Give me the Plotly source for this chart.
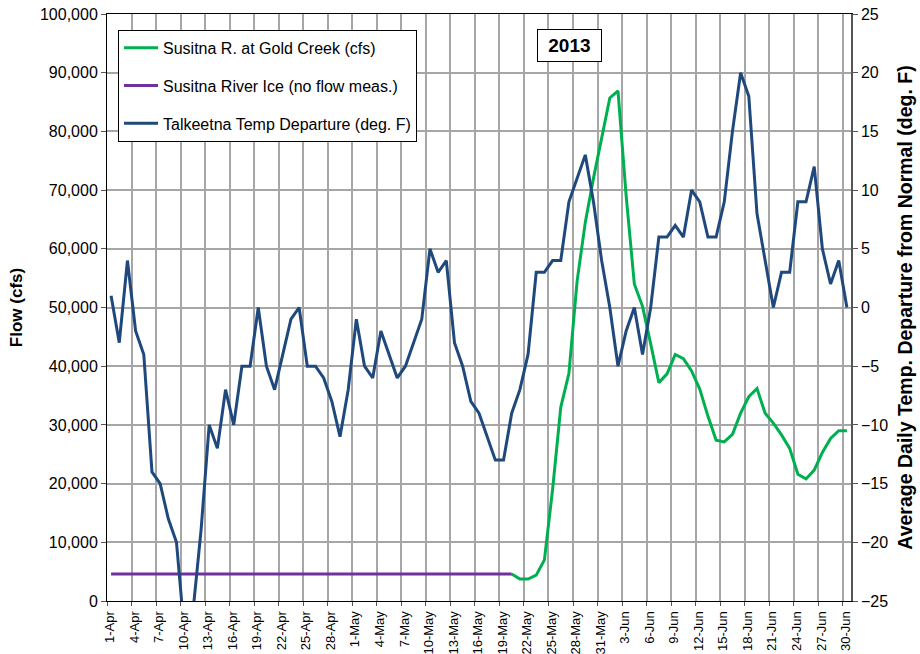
import pandas as pd
import plotly.graph_objects as go

# ---- data ----
start_date = "2013-04-01"
end_date = "2013-06-30"

# Talkeetna daily temperature departure from normal (deg F), 1-Apr .. 30-Jun
temp_departure = [
    1, -3, 4, -2, -4, -14, -15, -18, -20, -28,
    -26, -19, -10, -12, -7, -10, -5, -5, 0, -5,
    -7, -4, -1, 0, -5, -5, -6, -8, -11, -7,
    -1, -5, -6, -2, -4, -6, -5, -3, -1, 5,
    3, 4, -3, -5, -8, -9, -11, -13, -13, -9,
    -7, -4, 3, 3, 4, 4, 9, 11, 13, 9,
    4, 0, -5, -2, 0, -4, 0, 6, 6, 7,
    6, 10, 9, 6, 6, 9, 15, 20, 18, 8,
    4, 0, 3, 3, 9, 9, 12, 5, 2, 4,
    0,
]

# Susitna River ice period (no flow measured) – plotted at a nominal flow
ice_days = 50           # 1-Apr .. 20-May
ice_flow = 4600

# Susitna R. at Gold Creek flow (cfs), 20-May .. 30-Jun
gold_creek_flow = [
    4600, 3750, 3750, 4400, 7000, 19000, 33000, 38800, 54500, 64500,
    72000, 79000, 85700, 86900, 69000, 54000, 50200, 43800, 37200, 38700,
    42000, 41300, 39200, 36100, 31500, 27400, 27100, 28400, 32000, 34800,
    36200, 32000, 30300, 28300, 26000, 21600, 20800, 22300, 25300, 27700,
    29000, 29000,
]

series_names = [
    "Susitna R. at Gold Creek (cfs)",
    "Susitna River Ice (no flow meas.)",
    "Talkeetna Temp Departure (deg. F)",
]
year_label = "2013"

# ---- build ----
days = pd.date_range(start_date, end_date, freq="D")
x = days + pd.Timedelta(hours=12)  # points centred within each day
n = len(days)

flow_full = [None] * (n - len(gold_creek_flow)) + gold_creek_flow
ice_full = [ice_flow] * ice_days + [None] * (n - ice_days)

GREEN = "#00B050"
PURPLE = "#7030A0"
BLUE = "#1F497D"
GRID = "#a6a6a6"

fig = go.Figure()
fig.add_trace(go.Scatter(x=x, y=flow_full, mode="lines", name=series_names[0],
                         line=dict(color=GREEN, width=3), legendgroup="g1"))
fig.add_trace(go.Scatter(x=x, y=ice_full, mode="lines", name=series_names[1],
                         line=dict(color=PURPLE, width=3), legendgroup="g2"))
fig.add_trace(go.Scatter(x=x, y=temp_departure, mode="lines", name=series_names[2],
                         line=dict(color=BLUE, width=3), legendgroup="g3",
                         yaxis="y2"))

fig.update_layout(
    template="none",
    width=920, height=654,
    margin=dict(l=107, r=69, t=14, b=53, autoexpand=False),
    paper_bgcolor="white", plot_bgcolor="white",
    font=dict(family="Liberation Sans, Arial, sans-serif", color="black"),
    xaxis=dict(
        type="date", automargin=False,
        range=["2013-04-01", "2013-07-01"],
        tick0="2013-04-01", dtick=3 * 86400000,
        tickformat="%-d-%b", tickangle=-90,
        tickfont=dict(size=13),
        showgrid=True, gridcolor=GRID, gridwidth=1.5,
        showline=True, linecolor="black", linewidth=1, mirror=True,
        ticks="outside", ticklen=4, tickcolor="#555",
        ticklabelshift=3, zeroline=False,
    ),
    yaxis=dict(
        automargin=False, ticklabeloverflow="allow",
        range=[0, 100000], dtick=10000, tickformat=",",
        tickfont=dict(size=16),
        showgrid=True, gridcolor=GRID, gridwidth=1.5,
        showline=True, linecolor="black", linewidth=1,
        ticks="outside", ticklen=5, tickcolor="#555",
        title=dict(text="<b>Flow (cfs)</b>", font=dict(size=17), standoff=13),
        zeroline=False,
    ),
    yaxis2=dict(
        automargin=False, ticklabeloverflow="allow",
        range=[-25, 25], dtick=5, overlaying="y", side="right",
        tickfont=dict(size=16),
        showgrid=False, zeroline=False,
        showline=True, linecolor="#555", linewidth=1.5,
        ticks="outside", ticklen=5, tickcolor="#555",
        title=dict(text="<b>Average Daily Temp. Departure from Normal (deg. F)</b>",
                   font=dict(size=19.5), standoff=11),
    ),
    legend=dict(
        x=0.0148, y=0.973, xanchor="left", yanchor="top",
        bgcolor="white", bordercolor="black", borderwidth=1,
        font=dict(size=16), tracegroupgap=14, itemwidth=34,
        traceorder="grouped",
    ),
    showlegend=True,
    annotations=[dict(
        text=f"<b>&nbsp;{year_label}&nbsp;</b>", xref="paper", yref="paper",
        x=0.621, y=0.947, xanchor="center", yanchor="middle",
        showarrow=False, font=dict(size=19),
        bordercolor="black", borderwidth=1, borderpad=5, bgcolor="white",
    )],
)

fig.write_html(
    "out.html",
    config={"displayModeBar": False},
    post_script="document.body.style.margin='0px';",
)
